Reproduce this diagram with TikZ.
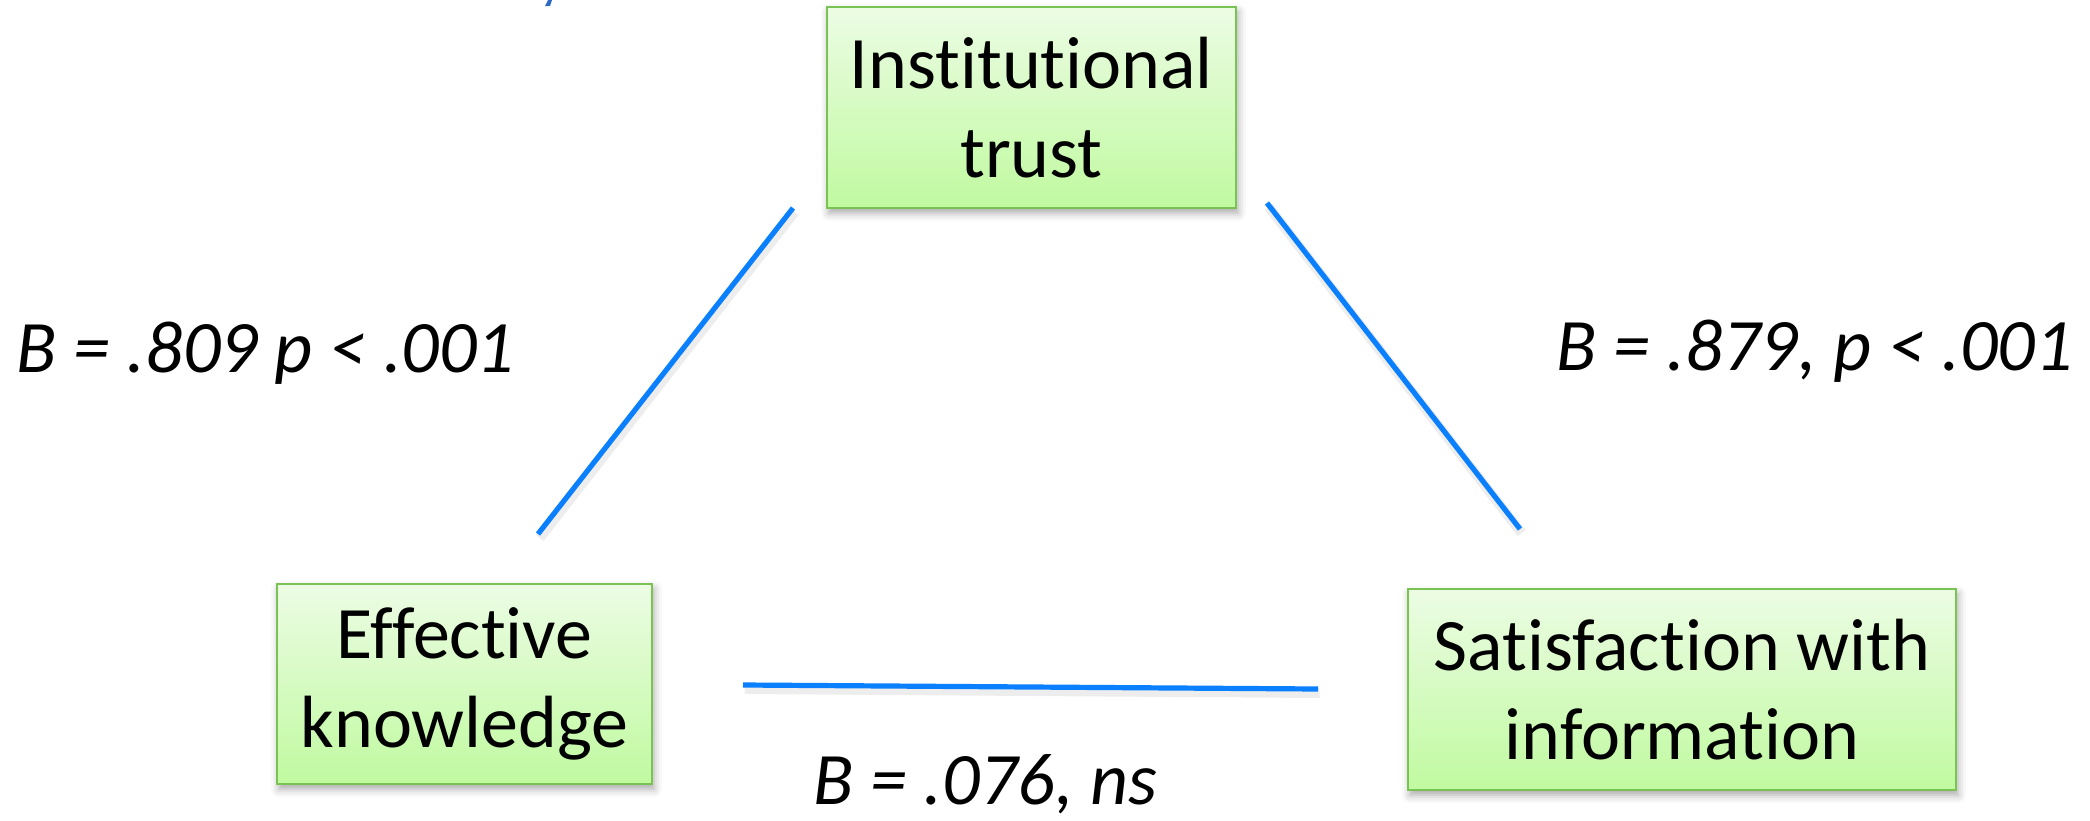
\documentclass[tikz,border=0pt]{standalone}
\usepackage{fontspec}
\setmainfont{Carlito}[Ligatures=NoCommon]
\usetikzlibrary{shadows.blur}
\definecolor{linkblue}{RGB}{10,128,255}
\definecolor{boxtop}{RGB}{236,252,228}
\definecolor{boxbot}{RGB}{192,250,160}
\definecolor{boxedge}{RGB}{122,194,84}
\definecolor{titleblue}{RGB}{46,108,196}
\begin{document}
\begin{tikzpicture}[x=0.5pt,y=-0.5pt,
  varbox/.style={draw=boxedge, line width=1.3pt, top color=boxtop, bottom color=boxbot,
    align=center, inner sep=0pt, font=\fontsize{37}{44.5}\selectfont,
    blur shadow={shadow xshift=1pt, shadow yshift=-2.5pt, shadow blur radius=4pt, shadow opacity=35}},
  link/.style={draw=linkblue, line width=2.6pt},
  linkshadow/.style={draw=black, opacity=0.07, line width=5pt},
  coef/.style={font=\fontsize{37}{44.5}\selectfont\itshape, anchor=base west, inner sep=0pt}]
\useasboundingbox (0,0) rectangle (2090,820);
% cut-off title fragment
\fill[titleblue] (545,6) -- (548,0) -- (552,0) -- (550,6) -- cycle;
% variables
\node[varbox, minimum width=204.5pt, minimum height=100.5pt] (trust) at (1031.5,107.5) {Institutional\\trust};
\node[varbox, minimum width=187.5pt, minimum height=100pt] (know) at (464.5,684) {Effective\\knowledge};
\node[varbox, minimum width=274pt, minimum height=100.5pt] (sat) at (1682,689.5) {Satisfaction with\\information};
% connector ends
\coordinate (l1a) at (793,208);
\coordinate (l1b) at (538,534);
\coordinate (l2a) at (1267,203);
\coordinate (l2b) at (1520,529);
\coordinate (l3a) at (743,685);
\coordinate (l3b) at (1318,689);
% soft shadows of connectors
\begin{scope}[transform canvas={xshift=0.8pt,yshift=-2pt}]
\draw[linkshadow] (l1a) -- (l1b);
\draw[linkshadow] (l2a) -- (l2b);
\draw[linkshadow] (l3a) -- (l3b);
\end{scope}
% connectors
\draw[link] (l1a) -- (l1b);
\draw[link] (l2a) -- (l2b);
\draw[link] (l3a) -- (l3b);
% coefficients
\node[coef] (c1) at (16,372) {B = .809 p < .001};
\node[coef] (c2) at (1556,370) {B = .879, p < .001};
\node[coef] (c3) at (813,804) {B = .076, ns};
\end{tikzpicture}
\end{document}
